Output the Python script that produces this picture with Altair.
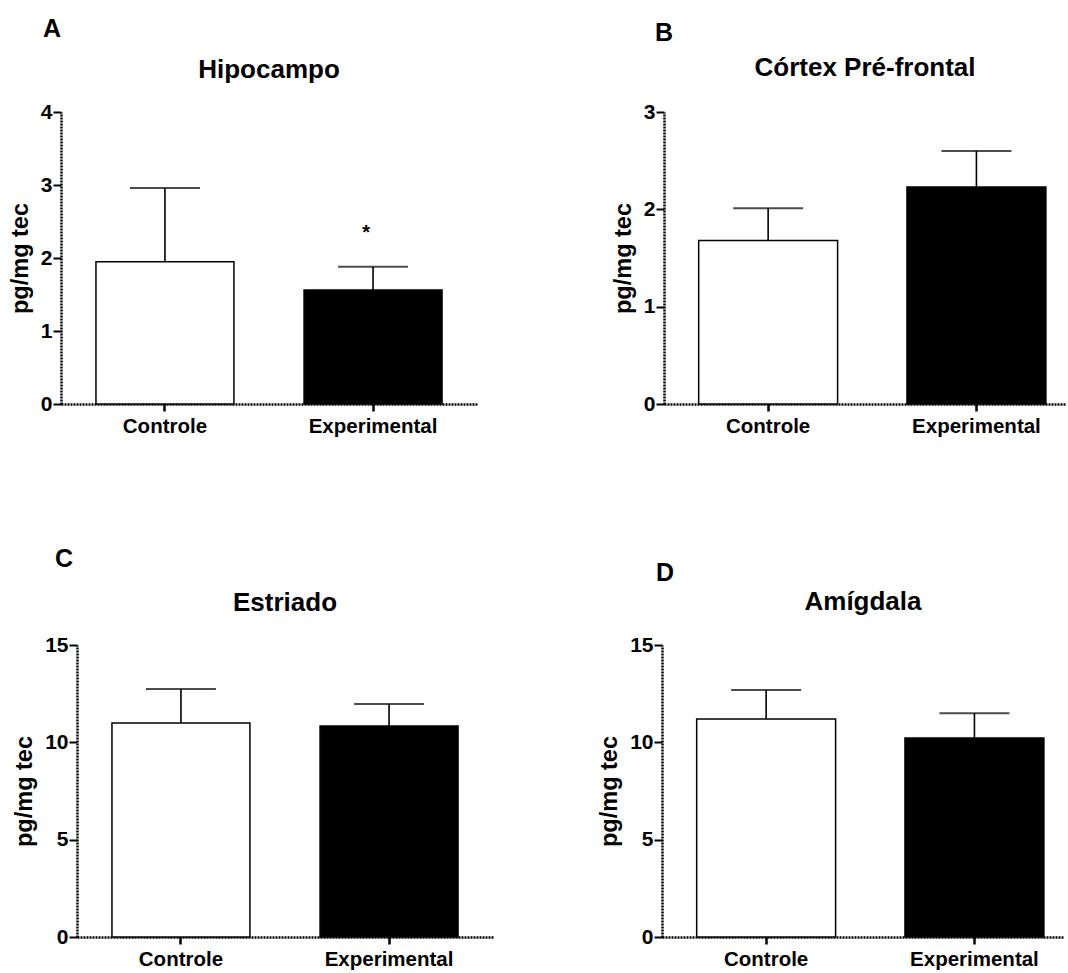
import altair as alt
import pandas as pd

FONT = "Liberation Sans, Arial, Helvetica, sans-serif"

letters = ["A", "B", "C", "D"]
regions = ["Hipocampo", "Córtex Pré-frontal", "Estriado", "Amígdala"]
groups = ["Controle", "Experimental"]
fills = ["white", "black"]

means_A = [1.95, 1.56]
errs_A = [1.01, 0.32]
means_B = [1.68, 2.23]
errs_B = [0.33, 0.37]
means_C = [10.99, 10.84]
errs_C = [1.75, 1.13]
means_D = [11.20, 10.22]
errs_D = [1.49, 1.28]

sig_A = ["", "*"]
sig_A_pos = [0.0, 2.34]

y_max = [4, 3, 15, 15]
y_ticks = [[0, 1, 2, 3, 4], [0, 1, 2, 3], [0, 5, 10, 15], [0, 5, 10, 15]]
y_title = "pg/mg tec"

H = 292


def panel(i, means, errs, width, pi, po, align, title_pad,
          letter_dx, letter_dy, name_dy, sig=None, sig_pos=None):
    df = pd.DataFrame({
        "group": groups,
        "mean": means,
        "upper": [m + e for m, e in zip(means, errs)],
        "fill": fills,
    })
    base = alt.Chart(df)
    x = alt.X("group:N", sort=groups, title=None,
              scale=alt.Scale(paddingInner=pi, paddingOuter=po, align=align),
              axis=alt.Axis(labelAngle=0, tickSize=7, tickWidth=2.5,
                            labelPadding=5, labelFontSize=20.5,
                            domainWidth=2.5, domainDash=[2, 1]))
    yscale = alt.Scale(domain=[0, y_max[i]], nice=False, zero=True)
    yaxis = alt.Axis(values=y_ticks[i], tickSize=8, tickWidth=2,
                     labelPadding=1, labelFontSize=21,
                     titleFontSize=23.5, titlePadding=title_pad,
                     domainWidth=2.5, domainDash=[2, 1])
    bars = base.mark_bar(stroke="black", strokeWidth=1.5).encode(
        x=x,
        y=alt.Y("mean:Q", scale=yscale, title=y_title, axis=yaxis),
        fill=alt.Fill("fill:N", scale=None),
    )
    stems = base.mark_rule(color="black", strokeWidth=1.6).encode(
        x=x,
        y=alt.Y("mean:Q", scale=yscale, title=y_title, axis=yaxis),
        y2="upper:Q",
    )
    caps = base.mark_tick(color="black", size=70, thickness=2).encode(
        x=x,
        y=alt.Y("upper:Q", scale=yscale, title=y_title, axis=yaxis),
    )
    name = alt.Chart(pd.DataFrame({"t": [regions[i]]})).mark_text(
        font=FONT, fontSize=26, fontWeight="bold", align="center",
        baseline="alphabetic", color="black",
    ).encode(x=alt.value(width / 2), y=alt.value(name_dy), text="t:N")
    letter = alt.Chart(pd.DataFrame({"t": [letters[i]]})).mark_text(
        font=FONT, fontSize=25, fontWeight="bold", align="left",
        baseline="alphabetic", color="black",
    ).encode(x=alt.value(letter_dx), y=alt.value(letter_dy), text="t:N")
    layers = [bars, stems, caps, name, letter]
    if sig is not None:
        sdf = pd.DataFrame({"group": groups, "sig": sig, "pos": sig_pos})
        stars = alt.Chart(sdf).mark_text(
            font=FONT, fontSize=20, fontWeight="bold", baseline="middle",
            align="center", color="black", dx=-7,
        ).encode(
            x=x,
            y=alt.Y("pos:Q", scale=yscale, title=y_title, axis=yaxis),
            text="sig:N",
        )
        layers.append(stars)
    return alt.layer(*layers).properties(width=width, height=H)


pA = panel(0, means_A, errs_A, 416, 0.337, 0.168, 0.5, 8, -18, -75, -34,
           sig=sig_A, sig_pos=sig_A_pos)
pB = panel(1, means_B, errs_B, 402, 0.333, 0.1315, 0.633, 8, -9, -71, -36)
pC = panel(2, means_C, errs_C, 416, 0.337, 0.168, 0.5, 8, -22, -78, -34)
pD = panel(3, means_D, errs_D, 402, 0.333, 0.1315, 0.633, 8, -6, -64, -35)

# empty spacer that shifts the lower-left panel to the right
spacer = alt.Chart(pd.DataFrame({"t": [""]})).mark_text().encode(
    text="t:N"
).properties(width=1, height=H)

row1 = alt.hconcat(pA, pB, spacing=187, bounds="flush")
row2 = alt.hconcat(
    alt.hconcat(spacer, pC, spacing=15, bounds="flush"),
    pD, spacing=104,
)

chart = alt.concat(row1, row2, columns=1, align="none", spacing=110).properties(
    padding={"left": 8, "top": 17, "right": 0, "bottom": 0},
    background="white",
).configure(font=FONT).configure_view(stroke=None).configure_axis(
    labelFont=FONT, titleFont=FONT, labelFontWeight="bold",
    titleFontWeight="bold", labelColor="black", titleColor="black",
    domainColor="black", tickColor="black", grid=False,
)

chart.save("out.html", embed_options={"renderer": "svg", "actions": False})
